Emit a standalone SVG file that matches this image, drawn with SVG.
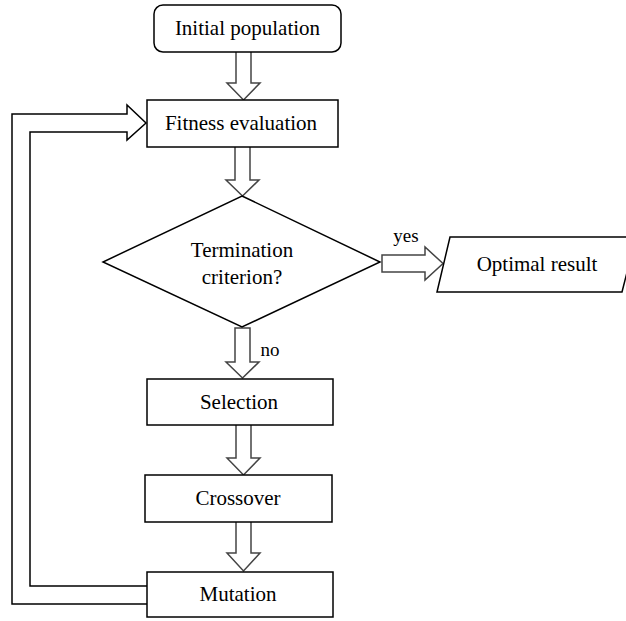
<svg xmlns="http://www.w3.org/2000/svg" width="626" height="621" viewBox="0 0 626 621">
<style>
.box{fill:#fff;stroke:#000;stroke-width:1.5}
.arr{fill:#fff;stroke:#444;stroke-width:1.5;stroke-linejoin:miter}
.fb{fill:none;stroke:#000;stroke-width:1.5;stroke-linejoin:miter}
text{font-family:'Liberation Serif','DejaVu Serif','Times New Roman',serif;font-size:21px;fill:#000;text-anchor:middle}
.lbl{font-size:19px}
</style>
<rect x="0" y="0" width="626" height="621" fill="#fff"/>
<g id="connectors">
<path class="arr" d="M236,52 V83 H227 L243.5,100 L260,83 H251 V52"/>
<path class="arr" d="M235,147 V180 H226 L242.5,196 L259,180 H250 V147"/>
<path class="arr" d="M235,362 V328 H250 V362 H259 L242.5,378 L226,362 Z"/>
<path class="arr" d="M236,425 V458 H227 L243.5,475 L260,458 H251 V425"/>
<path class="arr" d="M236,522 V553 H227 L243.5,571 L260,553 H251 V522"/>
<path class="arr" d="M382,255 H425 V247 L443,263.5 L425,280 V272 H382 Z"/>
<path class="fb" d="M147,604 H12 V114 H127 V105 L146,123 L127,140 V132 H30 V586 H147"/>
<text class="lbl" x="406" y="242" font-family="Liberation Serif, serif">yes</text>
<text class="lbl" x="270" y="356" font-family="Liberation Serif, serif">no</text>
</g>
<g id="initial">
<rect class="box" x="154" y="5" width="187" height="47" rx="9"/>
<text x="247.5" y="35" font-family="Liberation Serif, serif">Initial population</text>
</g>
<g id="fitness">
<rect class="box" x="147" y="100" width="191" height="47"/>
<text x="241" y="130" font-family="Liberation Serif, serif">Fitness evaluation</text>
</g>
<g id="termination">
<polygon class="box" points="242,196 380,262 242,327 103,262"/>
<text x="242" y="257" font-family="Liberation Serif, serif">Termination</text>
<text x="242" y="284" font-family="Liberation Serif, serif">criterion?</text>
</g>
<g id="optimal">
<polygon class="box" points="450,237 636,237 622,292 437,292"/>
<text x="537" y="271" font-family="Liberation Serif, serif">Optimal result</text>
</g>
<g id="selection">
<rect class="box" x="147" y="379" width="186" height="46"/>
<text x="239" y="409" font-family="Liberation Serif, serif">Selection</text>
</g>
<g id="crossover">
<rect class="box" x="145" y="475" width="187" height="47"/>
<text x="238" y="505" font-family="Liberation Serif, serif">Crossover</text>
</g>
<g id="mutation">
<rect class="box" x="147" y="572" width="186" height="45"/>
<text x="238" y="601" font-family="Liberation Serif, serif">Mutation</text>
</g>
</svg>
